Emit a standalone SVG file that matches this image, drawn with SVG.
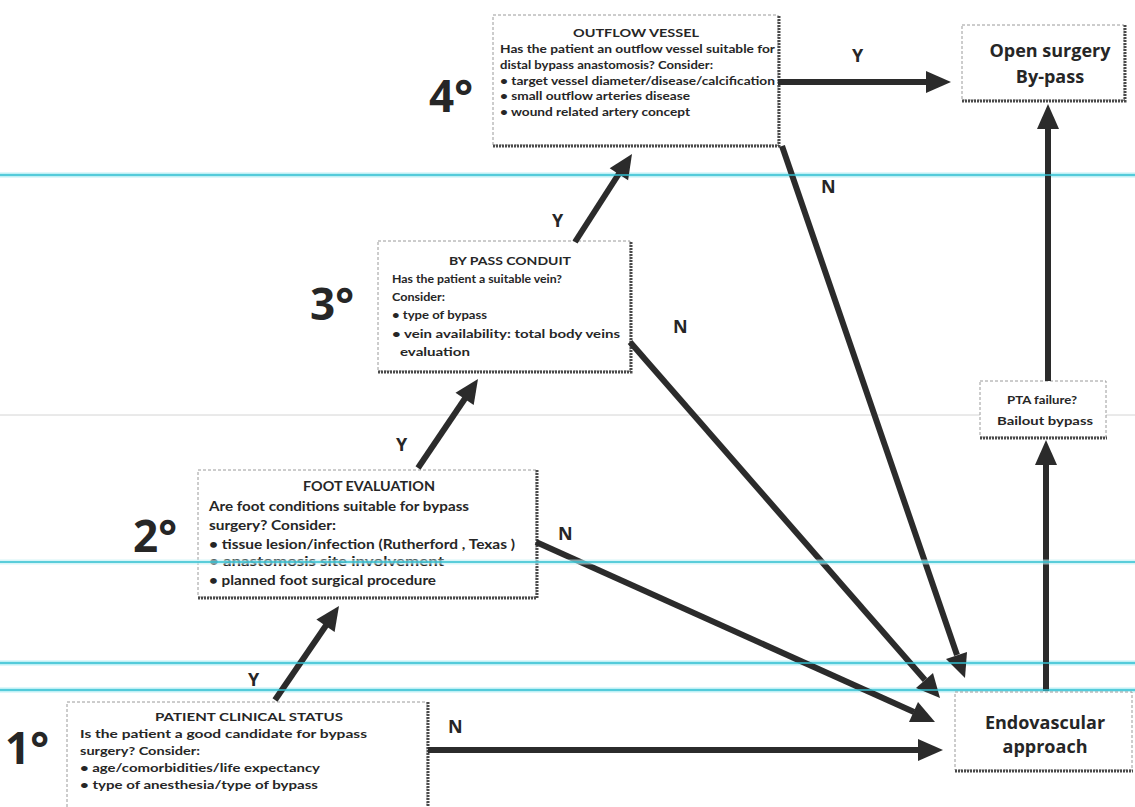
<svg xmlns="http://www.w3.org/2000/svg" width="1135" height="807" viewBox="0 0 1135 807">
<style>
.box{fill:#fff;stroke:#9a9a9a;stroke-width:1;stroke-dasharray:3 2}
.sh{fill:none;stroke:#4a4a4a;stroke-width:3;stroke-dasharray:2 1}
.t{font-family:Lato,"Open Sans",sans-serif;font-weight:bold;fill:#262626}
.s11{font-size:11px}.s12{font-size:12px}.s13{font-size:13px}
.big{font-family:"Open Sans",Lato,sans-serif;font-weight:bold;font-size:44px;fill:#262626}
.lab{font-family:"Open Sans",Lato,sans-serif;font-weight:bold;font-size:18px;fill:#262626}
.res{font-family:"Open Sans",Lato,sans-serif;font-weight:bold;font-size:18px;fill:#262626;text-anchor:middle}
.ln{stroke:#2b2b2b;stroke-width:6;fill:none}
.hd{fill:#2b2b2b}
.cy{stroke:#30bfd0;stroke-width:1.6}
.cyh{stroke:#bff0f5;stroke-width:5}
</style>
<rect width="1135" height="807" fill="#fff"/>
<g id="bg-lines">
<line class="cyh" x1="0" y1="175" x2="1135" y2="175"/>
<line class="cyh" x1="0" y1="663" x2="1135" y2="663"/>
<line class="cyh" x1="0" y1="690" x2="1135" y2="690"/>
<line x1="0" y1="415" x2="1135" y2="415" stroke="#d4d4d4" stroke-width="1"/>
</g>
<g id="node-4">
<rect class="box" x="493" y="15" width="285" height="130"/>
<path class="sh" d="M493,146 H779 V15"/>
<text class="t s11" x="636" y="37" text-anchor="middle" textLength="126" lengthAdjust="spacingAndGlyphs">OUTFLOW VESSEL</text>
<text class="t s11" x="500" y="53" textLength="275" lengthAdjust="spacingAndGlyphs">Has the patient an outflow vessel suitable for</text>
<text class="t s11" x="500" y="69" textLength="213" lengthAdjust="spacingAndGlyphs">distal bypass anastomosis?  Consider:</text>
<text class="t s11" x="500" y="85" textLength="275" lengthAdjust="spacingAndGlyphs">• target vessel diameter/disease/calcification</text>
<text class="t s11" x="500" y="100" textLength="190" lengthAdjust="spacingAndGlyphs">• small outflow arteries disease</text>
<text class="t s11" x="500" y="116" textLength="190" lengthAdjust="spacingAndGlyphs">• wound related artery concept</text>
<text class="big" x="429" y="112">4°</text>
</g>
<g id="node-open">
<rect class="box" x="962" y="25" width="162" height="75"/>
<path class="sh" d="M962,101 H1125 V25"/>
<text class="res" x="1050" y="57">Open surgery</text>
<text class="res" x="1050" y="83">By-pass</text>
</g>
<g id="node-3">
<rect class="box" x="378" y="241" width="252" height="130"/>
<path class="sh" d="M378,372 H631 V241"/>
<text class="t s12" x="510" y="265" text-anchor="middle" textLength="122" lengthAdjust="spacingAndGlyphs">BY PASS CONDUIT</text>
<text class="t s12" x="392" y="283" textLength="170" lengthAdjust="spacingAndGlyphs">Has the patient a suitable vein?</text>
<text class="t s12" x="392" y="301" textLength="53" lengthAdjust="spacingAndGlyphs">Consider:</text>
<text class="t s12" x="392" y="319" textLength="95" lengthAdjust="spacingAndGlyphs">• type of bypass</text>
<text class="t s12" x="392" y="338" textLength="228" lengthAdjust="spacingAndGlyphs">• vein availability: total body veins</text>
<text class="t s12" x="400" y="356" textLength="70" lengthAdjust="spacingAndGlyphs">evaluation</text>
<text class="big" x="310" y="320">3°</text>
</g>
<g id="node-2">
<rect class="box" x="198" y="470" width="338" height="127"/>
<path class="sh" d="M198,598 H537 V470"/>
<text class="t s13" x="369" y="491" text-anchor="middle" textLength="132" lengthAdjust="spacingAndGlyphs">FOOT EVALUATION</text>
<text class="t s13" x="209" y="511" textLength="260" lengthAdjust="spacingAndGlyphs">Are foot conditions suitable for bypass</text>
<text class="t s13" x="209" y="530" textLength="127" lengthAdjust="spacingAndGlyphs">surgery? Consider:</text>
<text class="t s13" x="209" y="549" textLength="306" lengthAdjust="spacingAndGlyphs">• tissue lesion/infection  (Rutherford , Texas )</text>
<text class="t s13" x="209" y="566" textLength="235" lengthAdjust="spacingAndGlyphs">• anastomosis site involvement</text>
<text class="t s13" x="209" y="585" textLength="227" lengthAdjust="spacingAndGlyphs">• planned foot surgical procedure</text>
<text class="big" x="133" y="552">2°</text>
</g>
<g id="node-1">
<rect class="box" x="67" y="702" width="360" height="110"/>
<path class="sh" d="M428,702 V812"/>
<text class="t s12" x="249" y="721" text-anchor="middle" textLength="188" lengthAdjust="spacingAndGlyphs">PATIENT CLINICAL STATUS</text>
<text class="t s12" x="80" y="738" textLength="287" lengthAdjust="spacingAndGlyphs">Is the patient a good candidate for  bypass</text>
<text class="t s12" x="80" y="755" textLength="120" lengthAdjust="spacingAndGlyphs">surgery?  Consider:</text>
<text class="t s12" x="80" y="772" textLength="240" lengthAdjust="spacingAndGlyphs">• age/comorbidities/life expectancy</text>
<text class="t s12" x="80" y="789" textLength="238" lengthAdjust="spacingAndGlyphs">• type of anesthesia/type of bypass</text>
<text class="big" x="5" y="764">1°</text>
</g>
<g id="node-pta">
<rect class="box" x="980" y="381" width="126" height="56"/>
<path class="sh" d="M980,438 H1107"/>
<text class="t s11" x="1042" y="404" text-anchor="middle" textLength="70" lengthAdjust="spacingAndGlyphs">PTA failure?</text>
<text class="t s11" x="1045" y="425" text-anchor="middle" textLength="96" lengthAdjust="spacingAndGlyphs">Bailout bypass</text>
</g>
<g id="node-endo">
<rect class="box" x="955" y="692" width="177" height="78"/>
<path class="sh" d="M955,771 H1133"/>
<text class="res" x="1045" y="729">Endovascular</text>
<text class="res" x="1045" y="753">approach</text>
</g>
<g id="connectors">
<line class="ln" x1="275" y1="700" x2="327" y2="624"/>
<polygon class="hd" points="339,606 334.6,632 316.4,619.6"/>
<line class="ln" x1="418" y1="468" x2="466" y2="397"/>
<polygon class="hd" points="478,379 473.7,405 455.5,392.8"/>
<line class="ln" x1="575" y1="242" x2="620" y2="172"/>
<polygon class="hd" points="632,154 628.1,180.2 609.7,168.2"/>
<line class="ln" x1="778" y1="82" x2="927" y2="82"/>
<polygon class="hd" points="951,82 926,71 926,93"/>
<line class="ln" x1="428" y1="750" x2="919" y2="750"/>
<polygon class="hd" points="943,750 918,739 918,761"/>
<line class="ln" x1="536" y1="542" x2="914" y2="712"/>
<polygon class="hd" points="935,722 918,702 909,722"/>
<line class="ln" x1="630" y1="342" x2="925" y2="680"/>
<polygon class="hd" points="940,698 933,673 916,688"/>
<line class="ln" x1="782" y1="146" x2="957" y2="655"/>
<polygon class="hd" points="965,678 967,652 946,659"/>
<line class="ln" x1="1046" y1="691" x2="1046" y2="463"/>
<polygon class="hd" points="1046,440 1035,465 1057,465"/>
<line class="ln" x1="1048" y1="381" x2="1048" y2="127"/>
<polygon class="hd" points="1048,104 1037,129 1059,129"/>
<text class="lab" x="852" y="62">Y</text>
<text class="lab" x="552" y="227">Y</text>
<text class="lab" x="396" y="451">Y</text>
<text class="lab" x="248" y="686">Y</text>
<text class="lab" x="448" y="733">N</text>
<text class="lab" x="558" y="540">N</text>
<text class="lab" x="673" y="333">N</text>
<text class="lab" x="821" y="193">N</text>
</g>
<g id="fg-lines">
<line class="cy" x1="0" y1="175" x2="1135" y2="175"/>
<line class="cyh" x1="0" y1="562" x2="1135" y2="562" opacity="0.6"/>
<line class="cy" x1="0" y1="562" x2="1135" y2="562" stroke-width="2"/>
<line class="cy" x1="0" y1="663" x2="1135" y2="663"/>
<line class="cy" x1="0" y1="690" x2="1135" y2="690"/>
</g>
</svg>
